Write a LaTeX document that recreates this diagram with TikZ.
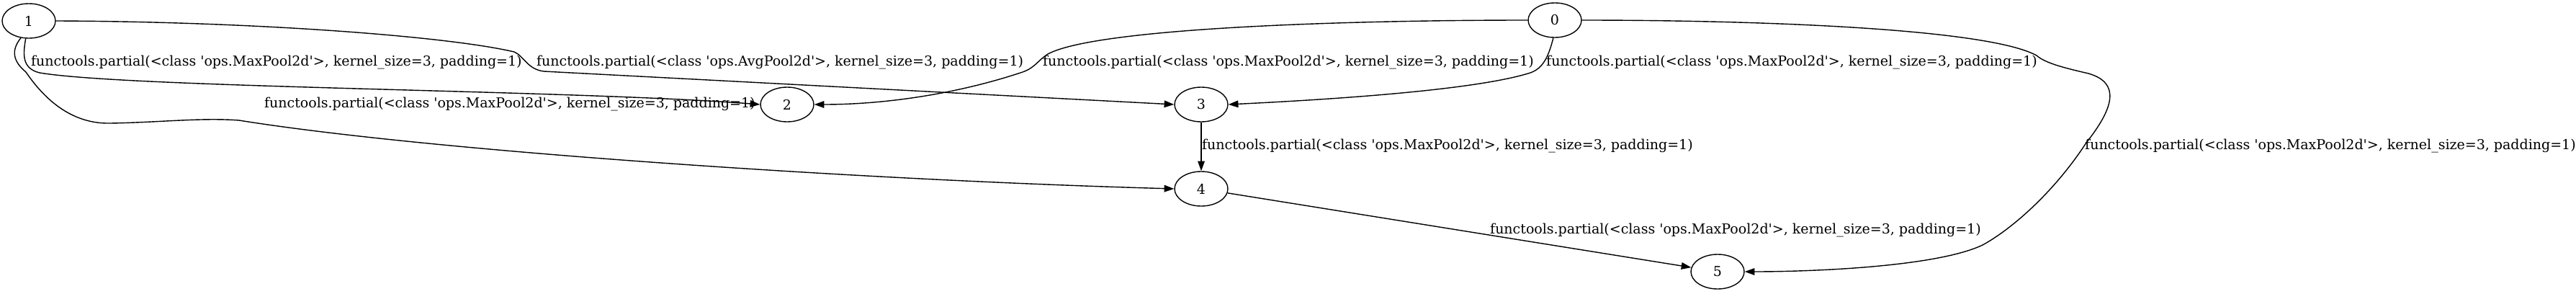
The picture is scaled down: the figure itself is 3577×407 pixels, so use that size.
\documentclass[tikz,border=0pt]{standalone}
\usepackage{fontspec}
\setmainfont{DejaVu Serif}
\usetikzlibrary{arrows.meta,shapes.geometric}
\newcommand{\lblmax}{functools.partial(<class \textquotesingle ops.MaxPool2d\textquotesingle>, kernel\_size=3, padding=1)}
\newcommand{\lblavg}{functools.partial(<class \textquotesingle ops.AvgPool2d\textquotesingle>, kernel\_size=3, padding=1)}
\begin{document}
\begin{tikzpicture}[x=1pt,y=-1pt,
  every node/.style={font=\fontsize{19}{23}\selectfont},
  vtx/.style={draw,ellipse,line width=1.4pt,minimum width=74pt,minimum height=48pt,inner sep=0pt},
  elabel/.style={anchor=west,inner sep=0pt},
  conn/.style={line width=1.4pt,-{Triangle[length=13.7pt,width=9.6pt]}}]
\useasboundingbox (0,0) rectangle (3577,407);
\node[vtx] (n1) at (40,29) {1};
\node[vtx] (n0) at (2159,28) {0};
\node[vtx] (n2) at (1093,145) {2};
\node[vtx] (n3) at (1668,145) {3};
\node[vtx] (n4) at (1668,262) {4};
\node[vtx] (n5) at (2385,377) {5};
% edges
\draw[conn] (n1.-100) .. controls (32,75) and (30,95) .. (55,101) .. controls (180,122) and (800,125) .. (n2.west);
\draw[conn] (n1.east) .. controls (350,30) and (620,50) .. (714,72) .. controls (728,78) and (732,96) .. (755,99) -- (n3.west);
\draw[conn] (n1.-115) .. controls (15,70) and (18,85) .. (36,100) .. controls (70,150) and (110,172) .. (153,171) .. controls (220,170) and (280,163) .. (332,167) .. controls (600,210) and (1200,250) .. (n4.west);
\draw[conn] (n0.west) .. controls (1850,28) and (1520,40) .. (1455,75) .. controls (1440,85) and (1437,94) .. (1420,100) .. controls (1330,130) and (1230,145) .. (n2.east);
\draw[conn] (n0.-95) .. controls (2150,80) and (2142,95) .. (2125,101) .. controls (2050,125) and (1850,138) .. (n3.east);
\draw[conn] (n0.east) .. controls (2450,28) and (2760,40) .. (2828,77) .. controls (2840,88) and (2870,95) .. (2900,102) .. controls (2945,115) and (2935,150) .. (2897,198) .. controls (2850,270) and (2790,320) .. (2753,340) .. controls (2690,370) and (2520,377) .. (n5.east);
\draw[conn] (n3.south) -- (n4.north);
\draw[conn] (n4) -- (n5);
% labels
\node[elabel] (l12) at (43,87) {\lblmax};
\node[elabel] (l13) at (745,87) {\lblavg};
\node[elabel] (l14) at (367,145) {\lblmax};
\node[elabel] (l02) at (1448,87) {\lblmax};
\node[elabel] (l03) at (2147,87) {\lblmax};
\node[elabel] (l05) at (2895,203) {\lblmax};
\node[elabel] (l34) at (1669,203) {\lblmax};
\node[elabel] (l45) at (2069,320) {\lblmax};
\end{tikzpicture}
\end{document}
